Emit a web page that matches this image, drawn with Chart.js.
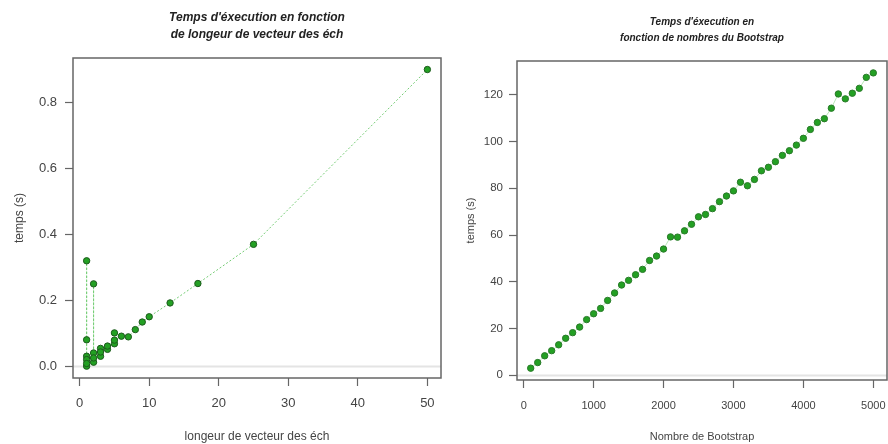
<!DOCTYPE html>
<html>
<head>
<meta charset="utf-8">
<script src="https://cdn.jsdelivr.net/npm/chart.js@4.4.1/dist/chart.umd.min.js"></script>
<style>
  body { margin: 0; background: #fff; overflow: hidden; }
  .panneau { position: absolute; top: 0; width: 444px; height: 444px; }
</style>
</head>
<body>
<div class="panneau" style="left:0"><canvas id="graphLongueur" width="444" height="444"></canvas></div>
<div class="panneau" style="left:444px"><canvas id="graphBootstrap" width="444" height="444"></canvas></div>
<script>
// longueur du vecteur des échantillons -> temps (s)
const longueurs = [1, 1, 1, 1, 1, 1, 2, 2, 2, 2, 3, 3, 3, 4, 4, 5, 5, 5, 6, 7, 8, 9, 10, 13, 17, 25, 50];
const tempsLongueur = [0.00, 0.32, 0.08, 0.03, 0.02, 0.008, 0.012, 0.25, 0.04, 0.025, 0.03, 0.054, 0.043,
  0.051, 0.061, 0.068, 0.101, 0.079, 0.091, 0.089, 0.111, 0.134, 0.150, 0.192, 0.251, 0.370, 0.901];
const ticksLongueurX = [0, 10, 20, 30, 40, 50];
const ticksLongueurY = [0, 0.2, 0.4, 0.6, 0.8];

// nombre de Bootstrap -> temps (s)
const nbBootstrap = [100, 200, 300, 400, 500, 600, 700, 800, 900, 1000,
  1100, 1200, 1300, 1400, 1500, 1600, 1700, 1800, 1900, 2000,
  2100, 2200, 2300, 2400, 2500, 2600, 2700, 2800, 2900, 3000,
  3100, 3200, 3300, 3400, 3500, 3600, 3700, 3800, 3900, 4000,
  4100, 4200, 4300, 4400, 4500, 4600, 4700, 4800, 4900, 5000];
const tempsBootstrap = [3.0, 5.4, 8.3, 10.5, 13.0, 15.8, 18.2, 20.6, 23.8, 26.3,
  28.6, 32.0, 35.2, 38.6, 40.6, 43.0, 45.3, 49.1, 51.0, 54.0,
  59.2, 59.1, 61.8, 64.6, 67.8, 68.8, 71.3, 74.3, 76.7, 78.9,
  82.6, 81.1, 83.8, 87.5, 89.0, 91.4, 94.1, 96.1, 98.5, 101.4,
  105.2, 108.2, 109.8, 114.3, 120.4, 118.3, 120.7, 122.8, 127.5, 129.4];
const ticksBootstrapX = [0, 1000, 2000, 3000, 4000, 5000];
const ticksBootstrapY = [0, 20, 40, 60, 80, 100, 120];

const police = "'Liberation Sans', Arial, sans-serif";

// cadre autour de la zone de tracé + ligne grise à y = 0
const cadre = {
  id: 'cadre',
  beforeDatasetsDraw(chart) {
    const { ctx, chartArea: a, scales } = chart;
    const y0 = Math.round(scales.y.getPixelForValue(0)) + 0.5;
    ctx.save();
    ctx.strokeStyle = '#e4e4e4';
    ctx.lineWidth = 2;
    ctx.beginPath();
    ctx.moveTo(a.left, y0);
    ctx.lineTo(a.right, y0);
    ctx.stroke();
    ctx.restore();
  },
  afterDraw(chart) {
    const { ctx, chartArea: a } = chart;
    ctx.save();
    ctx.strokeStyle = '#666';
    ctx.lineWidth = 1.5;
    ctx.strokeRect(a.left, a.top, a.right - a.left, a.bottom - a.top);
    ctx.restore();
  }
};

function axe(o) {
  return {
    type: 'linear',
    position: o.position,
    min: o.min,
    max: o.max,
    afterBuildTicks: s => { s.ticks = o.ticks.map(v => ({ value: v })); },
    afterFit: s => {
      if (o.position === 'bottom') { s.height = o.taille; s.paddingLeft = 0; s.paddingRight = 0; }
      else s.width = o.taille;
    },
    border: { display: false },
    grid: { drawOnChartArea: false, drawTicks: true, tickLength: 8, color: '#666', tickWidth: 1.2 },
    ticks: {
      autoSkip: false, maxRotation: 0, padding: o.pad, color: '#444',
      font: { family: police, size: o.fontTicks },
      callback: o.format
    },
    title: {
      display: true, text: o.titre, color: '#444',
      font: { family: police, size: o.fontTitre },
      padding: o.padTitre
    }
  };
}

function graphique(id, cfg) {
  return new Chart(document.getElementById(id), {
    type: 'scatter',
    data: {
      datasets: [{
        data: cfg.x.map((v, i) => ({ x: v, y: cfg.y[i] })),
        showLine: true,
        borderColor: cfg.couleurLigne,
        borderWidth: 1,
        borderDash: cfg.tirets,
        pointRadius: 3.2,
        pointBackgroundColor: '#23a023',
        pointBorderColor: cfg.contour,
        pointBorderWidth: 1
      }]
    },
    options: {
      responsive: false,
      animation: false,
      layout: { autoPadding: false, padding: { left: 0, right: cfg.droite, top: 0, bottom: 0 } },
      plugins: {
        legend: { display: false },
        tooltip: { enabled: false },
        title: {
          display: true, fullSize: false, text: cfg.titre, color: '#222',
          font: { family: police, size: cfg.fontTitre, weight: 'bold', style: 'italic', lineHeight: cfg.interligne },
          padding: cfg.padTitre
        }
      },
      scales: { x: cfg.axeX, y: cfg.axeY }
    },
    plugins: [cadre]
  });
}

graphique('graphLongueur', {
  x: longueurs, y: tempsLongueur,
  couleurLigne: '#74cc74', tirets: [2, 2], contour: '#1d5a1d',
  droite: 3,
  titre: ["Temps d'éxecution en fonction", "de longeur de vecteur des éch"],
  fontTitre: 12, interligne: 17 / 12, padTitre: { top: 9, bottom: 15 },
  axeX: axe({ position: 'bottom', min: -0.96, max: 51.96, ticks: ticksLongueurX, taille: 66, pad: 10,
    fontTicks: 13, fontTitre: 12, titre: 'longeur de vecteur des éch', padTitre: { top: 0, bottom: 0 },
    format: v => String(v) }),
  axeY: axe({ position: 'left', min: -0.036, max: 0.936, ticks: ticksLongueurY, taille: 73, pad: 8,
    fontTicks: 13, fontTitre: 12, titre: 'temps (s)', padTitre: { top: 12, bottom: 0 },
    format: v => v.toFixed(1) })
});

graphique('graphBootstrap', {
  x: nbBootstrap, y: tempsBootstrap,
  couleurLigne: '#b8e6b8', tirets: [], contour: '#2a7a2a',
  droite: 1,
  titre: ["Temps d'éxecution en", "fonction de nombres du Bootstrap"],
  fontTitre: 10, interligne: 1.6, padTitre: { top: 14, bottom: 15 },
  axeX: axe({ position: 'bottom', min: -96, max: 5196, ticks: ticksBootstrapX, taille: 64, pad: 11,
    fontTicks: 11, fontTitre: 11, titre: 'Nombre de Bootstrap', padTitre: { top: 0, bottom: 0 },
    format: v => String(v) }),
  axeY: axe({ position: 'left', min: -2.06, max: 134.5, ticks: ticksBootstrapY, taille: 73, pad: 6,
    fontTicks: 11.5, fontTitre: 11, titre: 'temps (s)', padTitre: { top: 20, bottom: 0 },
    format: v => String(v) })
});
</script>
</body>
</html>
